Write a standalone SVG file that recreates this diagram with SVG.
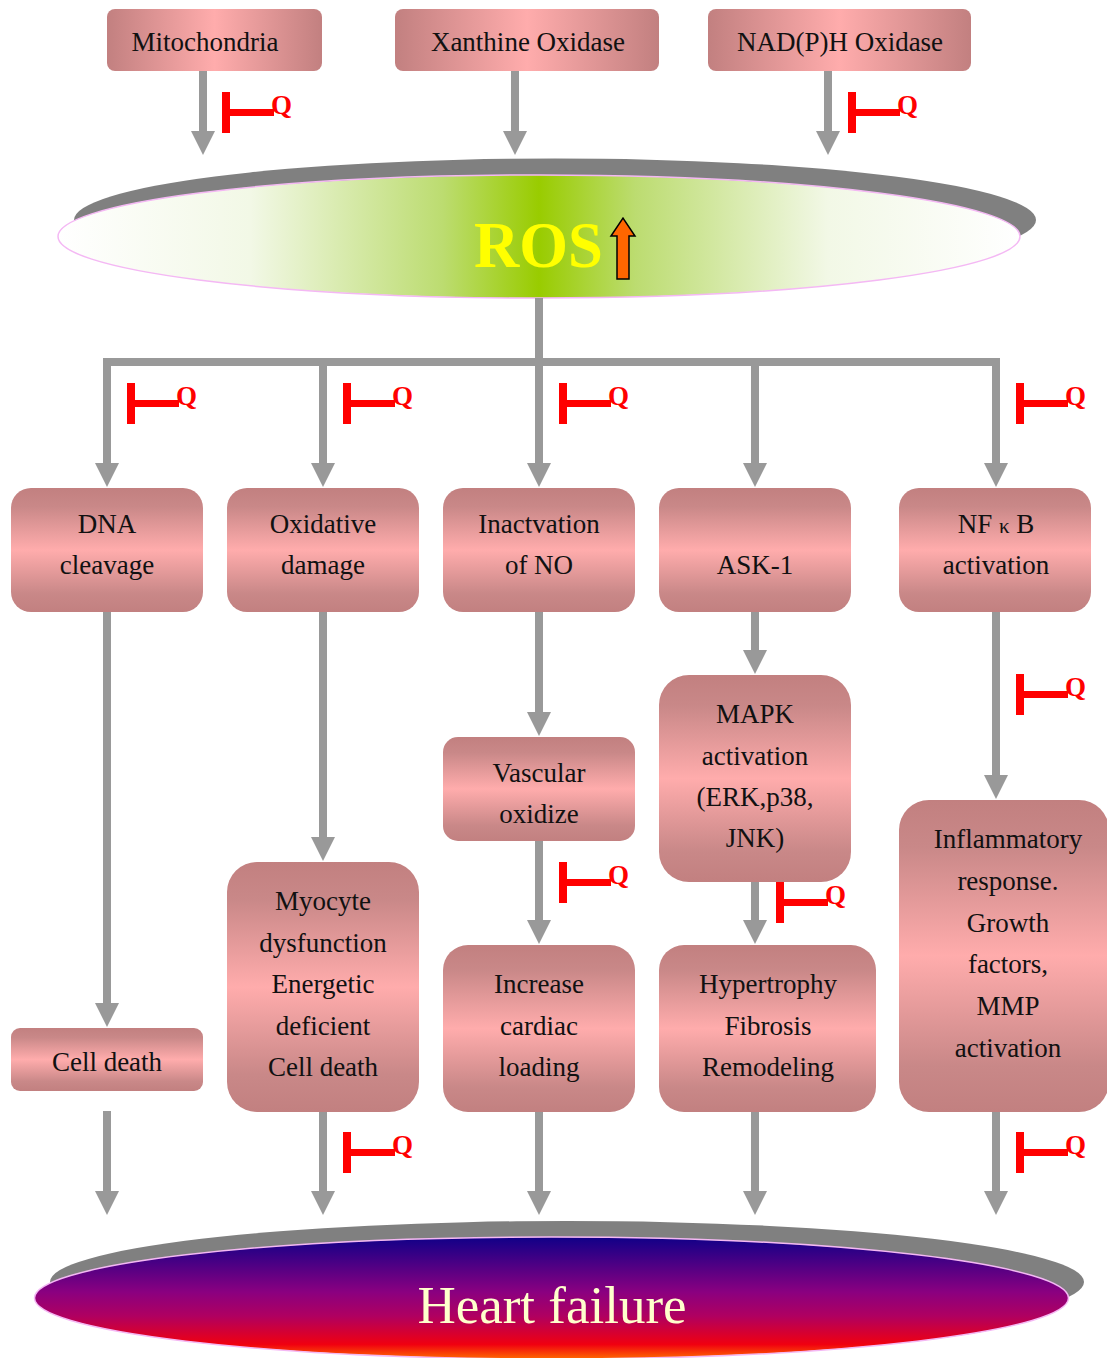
<svg xmlns="http://www.w3.org/2000/svg" width="1107" height="1358" viewBox="0 0 1107 1358">
<defs>
<linearGradient id="gH" x1="0" y1="0" x2="1" y2="0">
<stop offset="0" stop-color="#c28080"/><stop offset="0.5" stop-color="#ffacac"/><stop offset="1" stop-color="#c28080"/>
</linearGradient>
<linearGradient id="gV" x1="0" y1="0" x2="0" y2="1">
<stop offset="0" stop-color="#c28080"/><stop offset="0.15" stop-color="#c98888"/><stop offset="0.5" stop-color="#ffacac"/><stop offset="0.85" stop-color="#c98888"/><stop offset="1" stop-color="#c28080"/>
</linearGradient>
<linearGradient id="gRos" x1="0" y1="0" x2="1" y2="0">
<stop offset="0" stop-color="#ffffff"/><stop offset="0.2" stop-color="#f2f8e6"/><stop offset="0.4" stop-color="#bcdc70"/><stop offset="0.5" stop-color="#99cc00"/><stop offset="0.6" stop-color="#bcdc70"/><stop offset="0.8" stop-color="#f2f8e6"/><stop offset="1" stop-color="#ffffff"/>
</linearGradient>
<linearGradient id="gHf" x1="0" y1="0" x2="0" y2="1">
<stop offset="0" stop-color="#100088"/><stop offset="0.45" stop-color="#8a0080"/><stop offset="0.65" stop-color="#b00060"/><stop offset="0.88" stop-color="#f00010"/><stop offset="1" stop-color="#ff6a00"/>
</linearGradient>
<marker id="ah" markerUnits="userSpaceOnUse" markerWidth="24" markerHeight="24" viewBox="0 0 24 24" refX="0" refY="12" orient="auto">
<path d="M0,0 L24,12 L0,24 Z" fill="#999999"/>
</marker>
</defs>
<style>
.bx{font-family:"Liberation Serif","Times New Roman",serif;font-size:27px;fill:#111;text-anchor:middle}
.con{stroke:#999999;stroke-width:8;fill:none}
.arr{stroke:#999999;stroke-width:8;fill:none;marker-end:url(#ah)}
.inh rect{fill:#ff0000}
.q{font-family:"Liberation Serif","Times New Roman",serif;font-weight:bold;font-size:27px;fill:#ff0000}
</style>

<!-- ellipses -->
<g id="ros">
<ellipse cx="555" cy="220" rx="481" ry="61.5" fill="#808080"/>
<ellipse cx="539" cy="236.5" rx="481" ry="61.5" fill="url(#gRos)" stroke="#f4b8f4" stroke-width="1.5"/>
<text x="474" y="267" font-family="Liberation Serif,serif" font-weight="bold" font-size="66" fill="#ffff00" textLength="129" lengthAdjust="spacingAndGlyphs">ROS</text>
<path d="M611,236 L623,218 L635,236 L629,236 L629,279 L617,279 L617,236 Z" fill="#ff6600" stroke="#000" stroke-width="1.5" stroke-linejoin="miter"/>
</g>
<g id="heartfailure">
<ellipse cx="567" cy="1282" rx="517" ry="61" fill="#808080"/>
<ellipse cx="551.5" cy="1298" rx="517" ry="61" fill="url(#gHf)" stroke="#f4b8f4" stroke-width="1.5"/>
<text x="552" y="1323" font-family="Liberation Serif,serif" font-size="53" fill="#ffffcc" text-anchor="middle">Heart failure</text>
</g>

<!-- connectors -->
<g id="connectors">
<line class="arr" x1="203" y1="71" x2="203" y2="131"/>
<line class="arr" x1="515" y1="71" x2="515" y2="131"/>
<line class="arr" x1="828" y1="71" x2="828" y2="131"/>
<line class="con" x1="539" y1="298" x2="539" y2="362"/>
<line class="con" x1="103" y1="362" x2="1000" y2="362"/>
<line class="arr" x1="107" y1="358" x2="107" y2="463"/>
<line class="arr" x1="323" y1="358" x2="323" y2="463"/>
<line class="arr" x1="539" y1="358" x2="539" y2="463"/>
<line class="arr" x1="755" y1="358" x2="755" y2="463"/>
<line class="arr" x1="996" y1="358" x2="996" y2="463"/>
<line class="arr" x1="107" y1="611" x2="107" y2="1003"/>
<line class="arr" x1="107" y1="1111" x2="107" y2="1191"/>
<line class="arr" x1="323" y1="611" x2="323" y2="837"/>
<line class="arr" x1="323" y1="1111" x2="323" y2="1191"/>
<line class="arr" x1="539" y1="611" x2="539" y2="712"/>
<line class="arr" x1="539" y1="840" x2="539" y2="920"/>
<line class="arr" x1="539" y1="1111" x2="539" y2="1191"/>
<line class="arr" x1="755" y1="611" x2="755" y2="650"/>
<line class="arr" x1="755" y1="882" x2="755" y2="920"/>
<line class="arr" x1="755" y1="1111" x2="755" y2="1191"/>
<line class="arr" x1="996" y1="611" x2="996" y2="775"/>
<line class="arr" x1="996" y1="1111" x2="996" y2="1191"/>
</g>

<!-- inhibitors -->
<g id="inhibitors">
<g class="inh"><rect x="222" y="92" width="8" height="41"/><rect x="230" y="109" width="44" height="7"/><text class="q" x="271" y="114">Q</text></g>
<g class="inh"><rect x="848" y="92" width="8" height="41"/><rect x="856" y="109" width="44" height="7"/><text class="q" x="897" y="114">Q</text></g>
<g class="inh"><rect x="127" y="383" width="8" height="41"/><rect x="135" y="400" width="44" height="7"/><text class="q" x="176" y="405">Q</text></g>
<g class="inh"><rect x="343" y="383" width="8" height="41"/><rect x="351" y="400" width="44" height="7"/><text class="q" x="392" y="405">Q</text></g>
<g class="inh"><rect x="559" y="383" width="8" height="41"/><rect x="567" y="400" width="44" height="7"/><text class="q" x="608" y="405">Q</text></g>
<g class="inh"><rect x="1016" y="383" width="8" height="41"/><rect x="1024" y="400" width="44" height="7"/><text class="q" x="1065" y="405">Q</text></g>
<g class="inh"><rect x="1016" y="674" width="8" height="41"/><rect x="1024" y="691" width="44" height="7"/><text class="q" x="1065" y="696">Q</text></g>
<g class="inh"><rect x="559" y="862" width="8" height="41"/><rect x="567" y="879" width="44" height="7"/><text class="q" x="608" y="884">Q</text></g>
<g class="inh"><rect x="776" y="882" width="8" height="41"/><rect x="784" y="899" width="44" height="7"/><text class="q" x="825" y="904">Q</text></g>
<g class="inh"><rect x="343" y="1132" width="8" height="41"/><rect x="351" y="1149" width="44" height="7"/><text class="q" x="392" y="1154">Q</text></g>
<g class="inh"><rect x="1016" y="1132" width="8" height="41"/><rect x="1024" y="1149" width="44" height="7"/><text class="q" x="1065" y="1154">Q</text></g>
</g>

<!-- top nodes -->
<g id="mitochondria"><rect x="107" y="9" width="215" height="62" rx="8" fill="url(#gH)"/><text class="bx" x="205" y="51">Mitochondria</text></g>
<g id="xanthine"><rect x="395" y="9" width="264" height="62" rx="8" fill="url(#gH)"/><text class="bx" x="528" y="51">Xanthine Oxidase</text></g>
<g id="nadph"><rect x="708" y="9" width="263" height="62" rx="8" fill="url(#gH)"/><text class="bx" x="840" y="51">NAD(P)H Oxidase</text></g>

<!-- row 2 -->
<g id="dna"><rect x="11" y="488" width="192" height="124" rx="20" fill="url(#gV)"/><text class="bx" x="107" y="533">DNA</text><text class="bx" x="107" y="574">cleavage</text></g>
<g id="oxidative"><rect x="227" y="488" width="192" height="124" rx="20" fill="url(#gV)"/><text class="bx" x="323" y="533">Oxidative</text><text class="bx" x="323" y="574">damage</text></g>
<g id="inactivation"><rect x="443" y="488" width="192" height="124" rx="20" fill="url(#gV)"/><text class="bx" x="539" y="533">Inactvation</text><text class="bx" x="539" y="574">of NO</text></g>
<g id="ask1"><rect x="659" y="488" width="192" height="124" rx="20" fill="url(#gV)"/><text class="bx" x="755" y="574">ASK-1</text></g>
<g id="nfkb"><rect x="899" y="488" width="192" height="124" rx="20" fill="url(#gV)"/><text class="bx" x="996" y="533">NF <tspan font-size="21">κ</tspan> B</text><text class="bx" x="996" y="574">activation</text></g>

<!-- lower nodes -->
<g id="celldeath"><rect x="11" y="1028" width="192" height="63" rx="9" fill="url(#gV)"/><text class="bx" x="107" y="1071">Cell death</text></g>
<g id="myocyte"><rect x="227" y="862" width="192" height="250" rx="30" fill="url(#gV)"/>
<text class="bx" x="323" y="910">Myocyte</text><text class="bx" x="323" y="951.5">dysfunction</text><text class="bx" x="323" y="993">Energetic</text><text class="bx" x="323" y="1034.5">deficient</text><text class="bx" x="323" y="1076">Cell death</text></g>
<g id="vascular"><rect x="443" y="737" width="192" height="104" rx="15" fill="url(#gV)"/><text class="bx" x="539" y="782">Vascular</text><text class="bx" x="539" y="823">oxidize</text></g>
<g id="increase"><rect x="443" y="945" width="192" height="167" rx="25" fill="url(#gV)"/><text class="bx" x="539" y="993">Increase</text><text class="bx" x="539" y="1034.5">cardiac</text><text class="bx" x="539" y="1076">loading</text></g>
<g id="mapk"><rect x="659" y="675" width="192" height="207" rx="30" fill="url(#gV)"/><text class="bx" x="755" y="723">MAPK</text><text class="bx" x="755" y="764.5">activation</text><text class="bx" x="755" y="806">(ERK,p38,</text><text class="bx" x="755" y="847">JNK)</text></g>
<g id="hypertrophy"><rect x="659" y="945" width="217" height="167" rx="25" fill="url(#gV)"/><text class="bx" x="768" y="993">Hypertrophy</text><text class="bx" x="768" y="1034.5">Fibrosis</text><text class="bx" x="768" y="1076">Remodeling</text></g>
<g id="inflammatory"><rect x="899" y="800" width="210" height="312" rx="30" fill="url(#gV)"/>
<text class="bx" x="1008" y="848">Inflammatory</text><text class="bx" x="1008" y="890">response.</text><text class="bx" x="1008" y="932">Growth</text><text class="bx" x="1008" y="973">factors,</text><text class="bx" x="1008" y="1015">MMP</text><text class="bx" x="1008" y="1057">activation</text></g>
</svg>
